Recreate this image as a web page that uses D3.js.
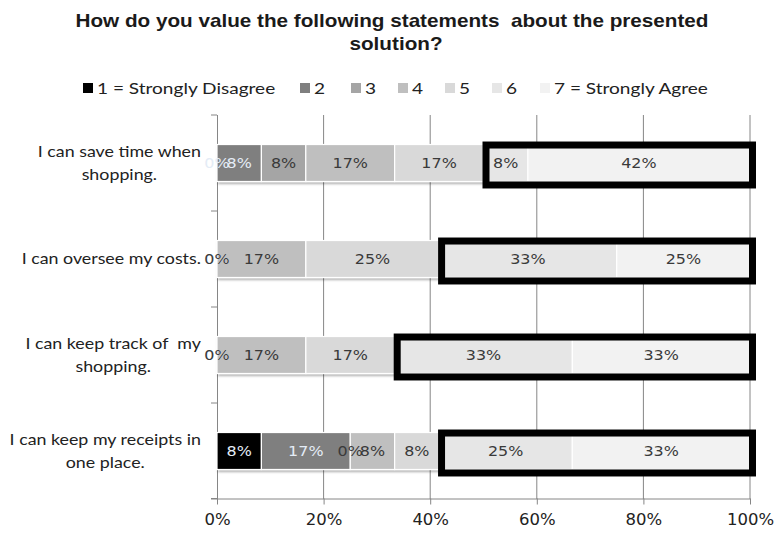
<!DOCTYPE html>
<html>
<head>
<meta charset="utf-8">
<script src="https://cdn.jsdelivr.net/npm/d3@7"></script>
<style>
  body { margin: 0; background: #fff; }
  svg { display: block; }
</style>
</head>
<body>
<svg id="chart" width="777" height="535"></svg>
<script>
const titleLines = ["How do you value the following statements  about the presented", "solution?"];
const categories = [
  ["I can save time when", "shopping."],
  ["I can oversee my costs."],
  ["I can keep track of  my", "shopping."],
  ["I can keep my receipts in", "one place."]
];
const seriesNames = ["1 = Strongly Disagree", "2", "3", "4", "5", "6", "7 = Strongly Agree"];
const seriesColors = ["#000000", "#7f7f7f", "#a5a5a5", "#bfbfbf", "#d9d9d9", "#e6e6e6", "#f2f2f2"];
const labelColors = ["#e4ecf6", "#e4ecf6", "#3a3a3a", "#3a3a3a", "#3a3a3a", "#3a3a3a", "#3a3a3a"];
// values (%) per series, one entry per category (top to bottom)
const s1 = [0, 0, 0, 8.33];
const s2 = [8.33, 0, 0, 16.67];
const s3 = [8.33, 0, 0, 0];
const s4 = [16.67, 16.67, 16.67, 8.33];
const s5 = [16.67, 25, 16.67, 8.33];
const s6 = [8.33, 33.33, 33.33, 25];
const s7 = [41.67, 25, 33.33, 33.33];
const seriesValues = [s1, s2, s3, s4, s5, s6, s7];
const xTicks = [0, 20, 40, 60, 80, 100];
const highlightFromSeries = 5; // "6" and "7 = Strongly Agree" are boxed

const svg = d3.select("#chart");
const x = d3.scaleLinear().domain([0, 100]).range([217, 750]);
const catIdx = categories.map((d, i) => i);
const y = d3.scaleBand().domain(catIdx).range([115, 499]).paddingInner(0.615).paddingOuter(0.3075);

const defs = svg.append("defs");
const f = defs.append("filter").attr("id", "shadow").attr("x", "-5%").attr("y", "-20%").attr("width", "110%").attr("height", "160%");
f.append("feDropShadow").attr("dx", 1.5).attr("dy", 2).attr("stdDeviation", 1.2).attr("flood-color", "#000").attr("flood-opacity", 0.3);

// Title
svg.append("g").selectAll("text").data(titleLines).join("text")
  .attr("x", 0).attr("y", 0)
  .attr("transform", (d, i) => `translate(${392 + i * 4},${27 + i * 23}) scale(1.15,1)`)
  .attr("text-anchor", "middle")
  .attr("font-family", "Liberation Sans, Arial, sans-serif")
  .attr("font-weight", "bold").attr("font-size", 18).attr("fill", "#1a1a1a")
  .style("white-space", "pre")
  .text(d => d);

// Legend
const legendX = [83, 300, 351, 398, 445, 492, 540];
const lg = svg.append("g").selectAll("g").data(seriesNames).join("g")
  .attr("transform", (d, i) => `translate(${legendX[i]},88)`);
lg.append("rect").attr("x", 0).attr("y", -5).attr("width", 10).attr("height", 10)
  .attr("fill", (d, i) => seriesColors[i]);
lg.append("text").attr("x", 0).attr("y", 0).attr("dy", "0.35em")
  .attr("transform", "translate(14,0) scale(1.19,1)")
  .attr("font-family", "Lato, 'Open Sans', sans-serif").attr("font-size", 16).attr("fill", "#222")
  .text(d => d);

// Gridlines
svg.append("g").selectAll("line").data(xTicks.slice(1)).join("line")
  .attr("x1", d => x(d)).attr("x2", d => x(d)).attr("y1", 115).attr("y2", 499)
  .attr("stroke", "#868686").attr("stroke-width", 1);

// Bottom axis
const xAxis = svg.append("g").attr("transform", "translate(0,498.5)")
  .call(d3.axisBottom(x).tickValues(xTicks).tickFormat(d => d + "%").tickSize(6).tickPadding(10).tickSizeOuter(0));
xAxis.select(".domain").attr("stroke", "#868686");
xAxis.selectAll(".tick line").attr("stroke", "#868686");
xAxis.selectAll(".tick text").attr("font-family", "DejaVu Sans, Verdana, sans-serif").attr("font-size", 15).attr("fill", "#222")
  .attr("transform", "scale(1.1,1)");
svg.append("line").attr("x1", 211).attr("x2", 217).attr("y1", 498.5).attr("y2", 498.5).attr("stroke", "#868686");

// Left axis
svg.append("line").attr("x1", 217.5).attr("x2", 217.5).attr("y1", 115).attr("y2", 499).attr("stroke", "#868686");
svg.append("g").selectAll("line").data(catIdx.map(i => y(i) - (y.step() - y.bandwidth()) / 2).concat([499]))
  .join("line").attr("x1", 211).attr("x2", 217).attr("y1", d => d).attr("y2", d => d).attr("stroke", "#868686");

// Stack data
const rows = catIdx.map(ci => {
  let acc = 0;
  return seriesValues.map((s, si) => {
    const seg = { ci, si, v: s[ci], x0: acc, x1: acc + s[ci] };
    acc += s[ci];
    return seg;
  });
});
const segs = rows.flat();

// Bars
svg.append("g").attr("filter", "url(#shadow)").selectAll("rect").data(segs.filter(d => d.v > 0)).join("rect")
  .attr("x", d => x(d.x0)).attr("width", d => x(d.x1) - x(d.x0))
  .attr("y", d => y(d.ci)).attr("height", y.bandwidth())
  .attr("fill", d => seriesColors[d.si]).attr("stroke", "#fff").attr("stroke-width", 1.2);

// Labels
svg.append("g").selectAll("text").data(segs).join("text")
  .attr("x", 0).attr("y", 0)
  .attr("transform", d => `translate(${(x(d.x0) + x(d.x1)) / 2},${y(d.ci) + y.bandwidth() / 2}) scale(1.1,1)`)
  .attr("dy", "0.36em").attr("text-anchor", "middle")
  .attr("font-family", "DejaVu Sans, Verdana, sans-serif").attr("font-size", 14.5)
  .attr("fill", d => labelColors[d.si])
  .text(d => Math.round(d.v) + "%");

// Highlight boxes
svg.append("g").selectAll("rect").data(rows).join("rect")
  .attr("x", r => x(r[highlightFromSeries].x0) + 2.5)
  .attr("width", r => x(100) - x(r[highlightFromSeries].x0))
  .attr("y", r => y(r[0].ci) + 0.5).attr("height", y.bandwidth() + 3)
  .attr("fill", "none").attr("stroke", "#000").attr("stroke-width", 7);

// Category labels
const sx = 1.15;
const catG = svg.append("g").selectAll("g").data(categories).join("g");
catG.each(function(lines, i) {
  const g = d3.select(this);
  const t = g.selectAll("text").data(lines).join("text")
    .attr("font-family", "Lato, 'Open Sans', sans-serif").attr("font-size", 15.5).attr("fill", "#222")
    .attr("text-anchor", "middle").style("white-space", "pre")
    .attr("x", 0).attr("y", 0)
    .text(d => d);
  let maxW = 0;
  t.each(function() { maxW = Math.max(maxW, this.getComputedTextLength()); });
  const cx = 201 - maxW * sx / 2;
  const cy = y(i) + y.bandwidth() / 2;
  t.attr("transform", (d, j) => `translate(${cx},${cy + (j - (lines.length - 1) / 2) * 23}) scale(${sx},1)`)
   .attr("dy", "0.35em");
});
</script>
</body>
</html>
